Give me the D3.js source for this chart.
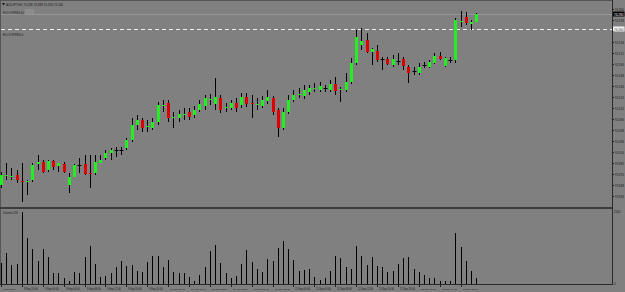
<!DOCTYPE html>
<html><head><meta charset="utf-8">
<script src="https://cdn.jsdelivr.net/npm/d3@7"></script>
<style>html,body{margin:0;padding:0;background:#808080;}svg{display:block;}</style>
</head><body>
<script>
const headerText = "AUDJPY,H1  74.258 74.288 74.230 74.240";
const open  = [73.948,73.966,73.964,73.968,73.956,73.954,73.958,73.990,73.994,73.978,73.996,73.986,73.990,73.948,73.964,73.988,73.990,73.972,73.972,73.992,74.002,74.012,74.018,74.018,74.022,74.038,74.068,74.078,74.064,74.062,74.074,74.106,74.112,74.082,74.082,74.088,74.094,74.088,74.098,74.106,74.118,74.110,74.122,74.102,74.102,74.112,74.108,74.124,74.112,74.108,74.106,74.116,74.122,74.098,74.062,74.094,74.118,74.128,74.126,74.134,74.140,74.138,74.142,74.138,74.150,74.138,74.138,74.154,74.192,74.228,74.238,74.214,74.216,74.200,74.200,74.188,74.196,74.200,74.184,74.176,74.172,74.188,74.184,74.192,74.206,74.186,74.198,74.198,74.274,74.284,74.270,74.274];
const high  = [73.974,73.992,73.982,73.978,73.992,73.958,73.992,74.008,73.998,73.998,73.998,73.992,73.994,73.972,73.990,74.002,74.008,74.008,74.008,74.008,74.018,74.022,74.024,74.024,74.042,74.082,74.088,74.082,74.078,74.082,74.114,74.118,74.118,74.094,74.098,74.102,74.102,74.106,74.118,74.128,74.130,74.162,74.128,74.112,74.118,74.122,74.132,74.132,74.128,74.122,74.126,74.138,74.126,74.102,74.102,74.128,74.138,74.142,74.148,74.148,74.152,74.154,74.148,74.158,74.164,74.144,74.172,74.202,74.258,74.262,74.252,74.222,74.228,74.204,74.204,74.208,74.212,74.204,74.188,74.184,74.192,74.194,74.198,74.212,74.214,74.204,74.204,74.282,74.296,74.294,74.278,74.292];
const low   = [73.942,73.958,73.958,73.952,73.914,73.928,73.954,73.978,73.972,73.974,73.978,73.974,73.972,73.932,73.964,73.972,73.968,73.942,73.968,73.992,73.998,73.998,74.004,74.008,74.018,74.034,74.058,74.054,74.054,74.058,74.068,74.094,74.074,74.062,74.074,74.078,74.078,74.082,74.094,74.098,74.108,74.098,74.092,74.094,74.098,74.094,74.102,74.104,74.082,74.098,74.102,74.110,74.088,74.044,74.058,74.090,74.114,74.122,74.120,74.128,74.134,74.134,74.134,74.134,74.128,74.114,74.134,74.150,74.188,74.218,74.212,74.188,74.194,74.178,74.188,74.184,74.188,74.178,74.152,74.168,74.168,74.182,74.182,74.190,74.198,74.184,74.192,74.192,74.264,74.268,74.258,74.274];
const close = [73.968,73.968,73.966,73.958,73.954,73.956,73.988,73.994,73.974,73.996,73.984,73.992,73.974,73.964,73.988,73.988,73.970,73.970,73.994,73.998,74.012,74.018,74.018,74.018,74.038,74.068,74.078,74.062,74.066,74.074,74.108,74.108,74.082,74.084,74.090,74.090,74.084,74.098,74.110,74.122,74.120,74.124,74.098,74.104,74.112,74.102,74.124,74.110,74.110,74.110,74.118,74.124,74.094,74.062,74.094,74.118,74.128,74.130,74.138,74.142,74.142,74.146,74.142,74.150,74.136,74.140,74.154,74.192,74.244,74.236,74.214,74.220,74.198,74.200,74.190,74.200,74.196,74.186,74.172,74.176,74.184,74.188,74.194,74.206,74.200,74.202,74.198,74.278,74.276,74.272,74.274,74.290];
const volume = [630,930,570,600,2160,1380,1050,690,1050,810,330,330,180,90,360,330,810,1140,600,210,240,330,510,690,540,570,390,360,660,840,840,510,720,360,330,330,210,90,270,510,990,1170,630,330,180,240,600,1020,660,450,360,750,690,1080,1290,1050,720,390,420,450,210,120,180,390,840,780,510,450,1140,840,570,810,540,510,360,390,600,780,810,450,360,270,180,180,90,90,90,1530,1110,690,390,180];
const dateLabels = ["8 Sep 2014","8 Sep 20:00","9 Sep 00:00","9 Sep 04:00","9 Sep 08:00","9 Sep 12:00","9 Sep 16:00","9 Sep 20:00","10 Sep 00:00","10 Sep 04:00","10 Sep 08:00","10 Sep 12:00","10 Sep 16:00","10 Sep 20:00","11 Sep 00:00","11 Sep 04:00","11 Sep 08:00","11 Sep 12:00","11 Sep 16:00","11 Sep 20:00","12 Sep 00:00","12 Sep 04:00","12 Sep 08:00"];
const labelEvery = 4;
const priceTicks = [74.300,74.278,74.256,74.234,74.212,74.190,74.168,74.146,74.124,74.102,74.080,74.058,74.036,74.014,73.992,73.970,73.948,73.926];
const hLinePrice = 74.260;
const objLabels = ["HLO 0.999964 (a)","HLO 0.999964 d"];
const volumeTitle = "Volumes 296";

const W = 625, H = 292;
const svg = d3.select("body").append("svg").attr("width", W).attr("height", H)
  .style("font-family", "'Liberation Sans', Arial, sans-serif");

svg.append("rect").attr("width", W).attr("height", H).attr("fill", "#808080");

const mainTop = 0, mainBot = 207, volTop = 209, volBot = 284, plotL = 1, plotR = 612;
const x = d3.scaleLinear().domain([0, 117]).range([plotL, plotR]);
const y = d3.scaleLinear().domain([73.904, 74.318]).range([mainBot, mainTop]);
const yv = d3.scaleLinear().domain([0, 2250]).range([volBot, volTop]);

// text whose font size is fitted so its natural width equals w
function txt(xx, yy, s, w, col) {
  const t = svg.append("text").attr("x", xx).attr("y", yy).attr("font-size", 4)
    .attr("fill", col || "#1a1a1a").text(s);
  const len = t.node().getComputedTextLength();
  if (len > 0) t.attr("font-size", (4 * w / len).toFixed(2));
  return t;
}

// borders
svg.append("line").attr("x1", 0).attr("x2", plotR).attr("y1", 0.5).attr("y2", 0.5).attr("stroke", "#555");
svg.append("line").attr("x1", 0.5).attr("x2", 0.5).attr("y1", 0).attr("y2", volBot).attr("stroke", "#555");
svg.append("rect").attr("x", 0).attr("y", mainBot).attr("width", plotR).attr("height", 2).attr("fill", "#3c3c3c");
svg.append("line").attr("x1", plotR + 0.5).attr("x2", plotR + 0.5).attr("y1", 0).attr("y2", volBot + 1).attr("stroke", "#2a2a2a");
svg.append("line").attr("x1", 0).attr("x2", plotR + 1).attr("y1", volBot + 0.5).attr("y2", volBot + 0.5).attr("stroke", "#2a2a2a");

const n = close.length;
const idx = d3.range(n);
const lastClose = close[n - 1];

// bid line (faint)
svg.append("line").attr("x1", plotL).attr("x2", plotR).attr("y1", Math.round(y(lastClose)) + 0.5).attr("y2", Math.round(y(lastClose)) + 0.5)
  .attr("stroke", "#959595").attr("stroke-width", 1);
// horizontal line object (dashed white)
svg.append("line").attr("x1", plotL).attr("x2", plotR).attr("y1", Math.round(y(hLinePrice)) + 0.5).attr("y2", Math.round(y(hLinePrice)) + 0.5)
  .attr("stroke", "#f0f0f0").attr("stroke-width", 1).attr("stroke-dasharray", "4,3");

// candles
const g = svg.append("g");
idx.forEach(i => {
  const cx = Math.round(x(i)) + 0.5;
  g.append("line").attr("x1", cx).attr("x2", cx).attr("y1", y(high[i])).attr("y2", y(low[i]))
    .attr("stroke", "#000").attr("stroke-width", 1);
  const o = open[i], c = close[i];
  if (Math.abs(o - c) < 0.0015) {
    g.append("line").attr("x1", cx - 2).attr("x2", cx + 2).attr("y1", Math.round(y(c)) + 0.5).attr("y2", Math.round(y(c)) + 0.5)
      .attr("stroke", "#000");
  } else {
    const top = y(Math.max(o, c)), bot = y(Math.min(o, c));
    g.append("rect").attr("x", cx - 1.5).attr("y", top).attr("width", 3).attr("height", bot - top)
      .attr("fill", c > o ? "#22ee22" : "#dd0000");
  }
});

// volume bars
idx.forEach(i => {
  const cx = Math.round(x(i)) + 0.5;
  svg.append("line").attr("x1", cx).attr("x2", cx).attr("y1", yv(volume[i])).attr("y2", volBot)
    .attr("stroke", "#000").attr("stroke-width", 1);
});

// price axis labels (skip those hidden by the boxes)
const boxYs = [y(hLinePrice), y(lastClose)];
priceTicks.forEach(p => {
  const yy = y(p);
  svg.append("line").attr("x1", plotR).attr("x2", plotR + 2).attr("y1", Math.round(yy) + 0.5).attr("y2", Math.round(yy) + 0.5).attr("stroke", "#222");
  if (boxYs.some(b => Math.abs(b - yy) < 4.5)) return;
  txt(plotR + 2.5, yy + 1.5, p.toFixed(3), 9.5);
});
// hline label (white box)
{
  const yy = y(hLinePrice);
  svg.append("rect").attr("x", plotR + 1).attr("y", yy - 2.5).attr("width", 11.5).attr("height", 5).attr("fill", "#f4f4f4");
  txt(plotR + 2, yy + 1.5, hLinePrice.toFixed(3), 9.5, "#333");
}
// bid label (black box)
{
  const yy = y(lastClose);
  svg.append("rect").attr("x", plotR + 1).attr("y", yy - 2.5).attr("width", 11.5).attr("height", 5).attr("fill", "#000");
  txt(plotR + 2, yy + 1.5, lastClose.toFixed(3), 9.5, "#fff");
}

// volume axis labels
txt(plotR + 2, yv(d3.max(volume)) + 0.5, String(d3.max(volume)), 6.5);
txt(plotR + 2, volBot + 1, "0", 1.8);

// date labels
dateLabels.forEach((lab, k) => {
  const i = k * labelEvery;
  const xx = Math.round(x(i)) + 0.5;
  svg.append("line").attr("x1", xx).attr("x2", xx).attr("y1", volBot).attr("y2", volBot + 3).attr("stroke", "#222");
  txt(xx + 1.5, 290, lab, lab.length * 1.25);
});

// header texts
svg.append("path").attr("d", "M2,3 L5,3 L3.5,5.5 Z").attr("fill", "#111");
txt(6, 5.5, headerText, 57);
svg.append("rect").attr("x", 25).attr("y", 9).attr("width", 9).attr("height", 5).attr("fill", "#8c8c8c");
txt(3, 13.5, objLabels[0], 21);
txt(3, 36, objLabels[1], 20);
txt(3, 213.5, volumeTitle, 15);
</script>
</body></html>
